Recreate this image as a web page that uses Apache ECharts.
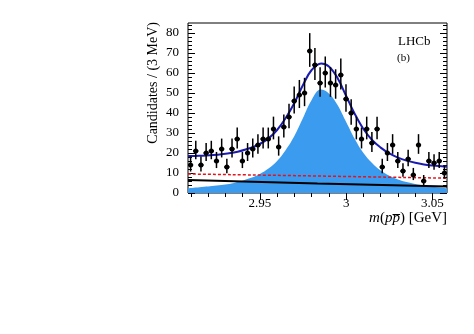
<!DOCTYPE html>
<html><head><meta charset="utf-8">
<script src="https://cdn.jsdelivr.net/npm/echarts@6/dist/echarts.min.js"></script>
<style>html,body{margin:0;padding:0;background:#fff}#c{width:474px;height:334px}</style>
</head><body><div id="c"></div>
<script>
// Bin centres (GeV), 3 MeV bins
const binCenters = [
  2.9099, 2.9129, 2.9159, 2.9189, 2.9219, 2.9249, 2.9279, 2.9309, 2.9339, 2.9369,
  2.9399, 2.9429, 2.9459, 2.9489, 2.9519, 2.9549, 2.9579, 2.9609, 2.9639, 2.9669,
  2.9699, 2.9729, 2.9759, 2.9789, 2.9819, 2.9849, 2.9879, 2.9909, 2.9939, 2.9969,
  2.9999, 3.0029, 3.0059, 3.0089, 3.0119, 3.0149, 3.0179, 3.0209, 3.0239, 3.0269,
  3.0299, 3.0329, 3.0359, 3.0389, 3.0419, 3.0449, 3.0479, 3.0509, 3.0539, 3.0569
];
const counts = [
  14, 21, 14, 20, 21, 16, 22, 13, 22, 27,
  16, 20, 22, 24, 27, 27, 32, 23, 33, 38,
  46, 49, 50, 71, 64, 55, 60, 55, 54, 59,
  47, 40, 32, 27, 32, 25, 32, 13, 20, 24,
  16, 11, 17, 9, 24, 6, 16, 15, 16, 10
];
// Signal component (filled)
const sigX = [2.9084, 2.915, 2.925, 2.935, 2.945, 2.950, 2.955, 2.960, 2.965, 2.970, 2.975, 2.980, 2.9853,
              2.990, 2.995, 3.000, 3.005, 3.010, 3.015, 3.020, 3.025, 3.030, 3.035, 3.040, 3.045, 3.050, 3.0584];
const sigY = [2.4, 2.9, 3.7, 5.0, 7.6, 9.5, 12.2, 16, 21.5, 28.5, 37.5, 46.5, 51.7,
              49.8, 44, 35.5, 27, 20, 15, 11.2, 8.6, 6.8, 5.5, 4.5, 3.7, 3.1, 2.3];
// Total fit (blue)
const totX = [2.9084, 2.915, 2.925, 2.935, 2.945, 2.950, 2.955, 2.960, 2.965, 2.970, 2.975, 2.980, 2.9855,
              2.990, 2.995, 3.000, 3.005, 3.010, 3.015, 3.020, 3.025, 3.030, 3.035, 3.040, 3.045, 3.050, 3.0584];
const totY = [18.5, 18.6, 19.1, 20.2, 22.6, 24.5, 27.3, 31.5, 37.5, 45, 54, 61.5, 64.8,
              63.3, 57.5, 48.5, 39.5, 32, 26.5, 22.7, 19.8, 17.7, 16.2, 15.1, 14.3, 13.7, 13.1];
// Background components
const bkgX = [2.9084, 2.9834, 3.0584];
const redY = [9.5, 8.5, 7.4];
const blackY = [6.5, 4.8, 3.3];
// Ticks
const xMajor = [2.95, 3.00, 3.05];
const xMinor = [2.91, 2.92, 2.93, 2.94, 2.96, 2.97, 2.98, 2.99, 3.01, 3.02, 3.03, 3.04];
const yMajor = [0, 10, 20, 30, 40, 50, 60, 70, 80];
const yMinor = [2,4,6,8,12,14,16,18,22,24,26,28,32,34,36,38,42,44,46,48,52,54,56,58,62,64,66,68,72,74,76,78,82,84];

const XMIN = 2.9084, XMAX = 3.0584, YMIN = 0, YMAX = 85;
const BINW = 0.003;
const FONT = '"Liberation Serif", "Times New Roman", serif';

const pair = (xs, ys) => xs.map((x, i) => [x, ys[i]]);
const pts = binCenters.map((x, i) => {
  const n = counts[i];
  const s = Math.sqrt(n + 0.25);
  return [x, n, n - (s - 0.5), n + (s + 0.5)];
});

function xAx(pos, ticks, len, labels) {
  return {
    type: 'value', min: XMIN, max: XMAX, position: pos,
    axisLine: {show: false}, splitLine: {show: false},
    axisTick: {show: true, inside: true, length: len, customValues: ticks, lineStyle: {color: '#000', width: 1}},
    axisLabel: labels ? {show: true, customValues: ticks, fontFamily: FONT, fontSize: 13, color: '#000', margin: 4,
      formatter: v => String(+(+v).toFixed(2))} : {show: false}
  };
}
function yAx(pos, ticks, len, labels) {
  return {
    type: 'value', min: YMIN, max: YMAX, position: pos,
    axisLine: {show: false}, splitLine: {show: false},
    axisTick: {show: true, inside: true, length: len, customValues: ticks, lineStyle: {color: '#000', width: 1}},
    axisLabel: labels ? {show: true, customValues: ticks, fontFamily: FONT, fontSize: 13, color: '#000', margin: 9} : {show: false}
  };
}

const chart = echarts.init(document.getElementById('c'), null, {renderer: 'canvas'});
chart.setOption({
  animation: false,
  backgroundColor: '#fff',
  grid: {left: 188, top: 23, right: 27, bottom: 141, show: true, borderColor: '#000', borderWidth: 1, backgroundColor: 'transparent', containLabel: false},
  // order: bottom, top, (bottom->top), (top->bottom)
  xAxis: [xAx('bottom', xMajor, 7, true), xAx('top', xMajor, 7, false), xAx('bottom', xMinor, 4, false), xAx('top', xMinor, 4, false)],
  yAxis: [yAx('left', yMajor, 7, true), yAx('right', yMajor, 7, false), yAx('left', yMinor, 4, false), yAx('right', yMinor, 4, false)],
  series: [
    {type: 'line', data: pair(sigX, sigY), smooth: 0.4, symbol: 'none', lineStyle: {width: 0},
     areaStyle: {color: '#3a9bef', opacity: 1}, z: 1, silent: true},
    {type: 'line', data: pair(bkgX, blackY), smooth: true, symbol: 'none', lineStyle: {color: '#000', width: 2}, z: 2, silent: true},
    {type: 'line', data: pair(bkgX, redY), smooth: true, symbol: 'none', lineStyle: {color: '#e3141c', width: 1.5, type: [3, 2]}, z: 3, silent: true},
    {type: 'line', data: pair(totX, totY), smooth: 0.4, symbol: 'none', lineStyle: {color: '#1b1bb0', width: 2}, z: 4, silent: true},
    {type: 'custom', data: pts, z: 5, silent: true,
     renderItem: (params, api) => {
       const x = api.value(0), y = api.value(1), lo = api.value(2), hi = api.value(3);
       const c = api.coord([x, y]);
       const cl = api.coord([x, lo]);
       const ch = api.coord([x, hi]);
       const hw = api.size([BINW, 0])[0] / 2;
       return {type: 'group', children: [
         {type: 'line', shape: {x1: c[0], y1: cl[1], x2: c[0], y2: ch[1]}, style: {stroke: '#000', lineWidth: 1.5}},
         {type: 'line', shape: {x1: c[0] - hw, y1: c[1], x2: c[0] + hw, y2: c[1]}, style: {stroke: '#000', lineWidth: 1.8}},
         {type: 'circle', shape: {cx: c[0], cy: c[1], r: 2.5}, style: {fill: '#000'}}
       ]};
     }}
  ],
  graphic: [
    {type: 'text', x: 398, y: 42, style: {text: 'LHCb', font: '13px ' + FONT, fill: '#000', align: 'left', verticalAlign: 'middle'}},
    {type: 'text', x: 397, y: 58, style: {text: '(b)', font: '11px ' + FONT, fill: '#000', align: 'left', verticalAlign: 'middle'}},
    {type: 'text', x: 153, y: 22, rotation: Math.PI / 2,
     style: {text: 'Candidates / (3 MeV)', font: '14px ' + FONT, fill: '#000', align: 'right', verticalAlign: 'middle'}},
    {type: 'text', x: 447, y: 218,
     style: {text: '{i|m}{n|(}{i|pp\u0305}{n|) [GeV]}', font: '15px ' + FONT, fill: '#000', align: 'right', verticalAlign: 'middle',
       rich: {i: {fontStyle: 'italic', fontFamily: FONT, fontSize: 15, fill: '#000'}, n: {fontFamily: FONT, fontSize: 15, fill: '#000'}}}}
  ]
});
</script>
</body></html>
